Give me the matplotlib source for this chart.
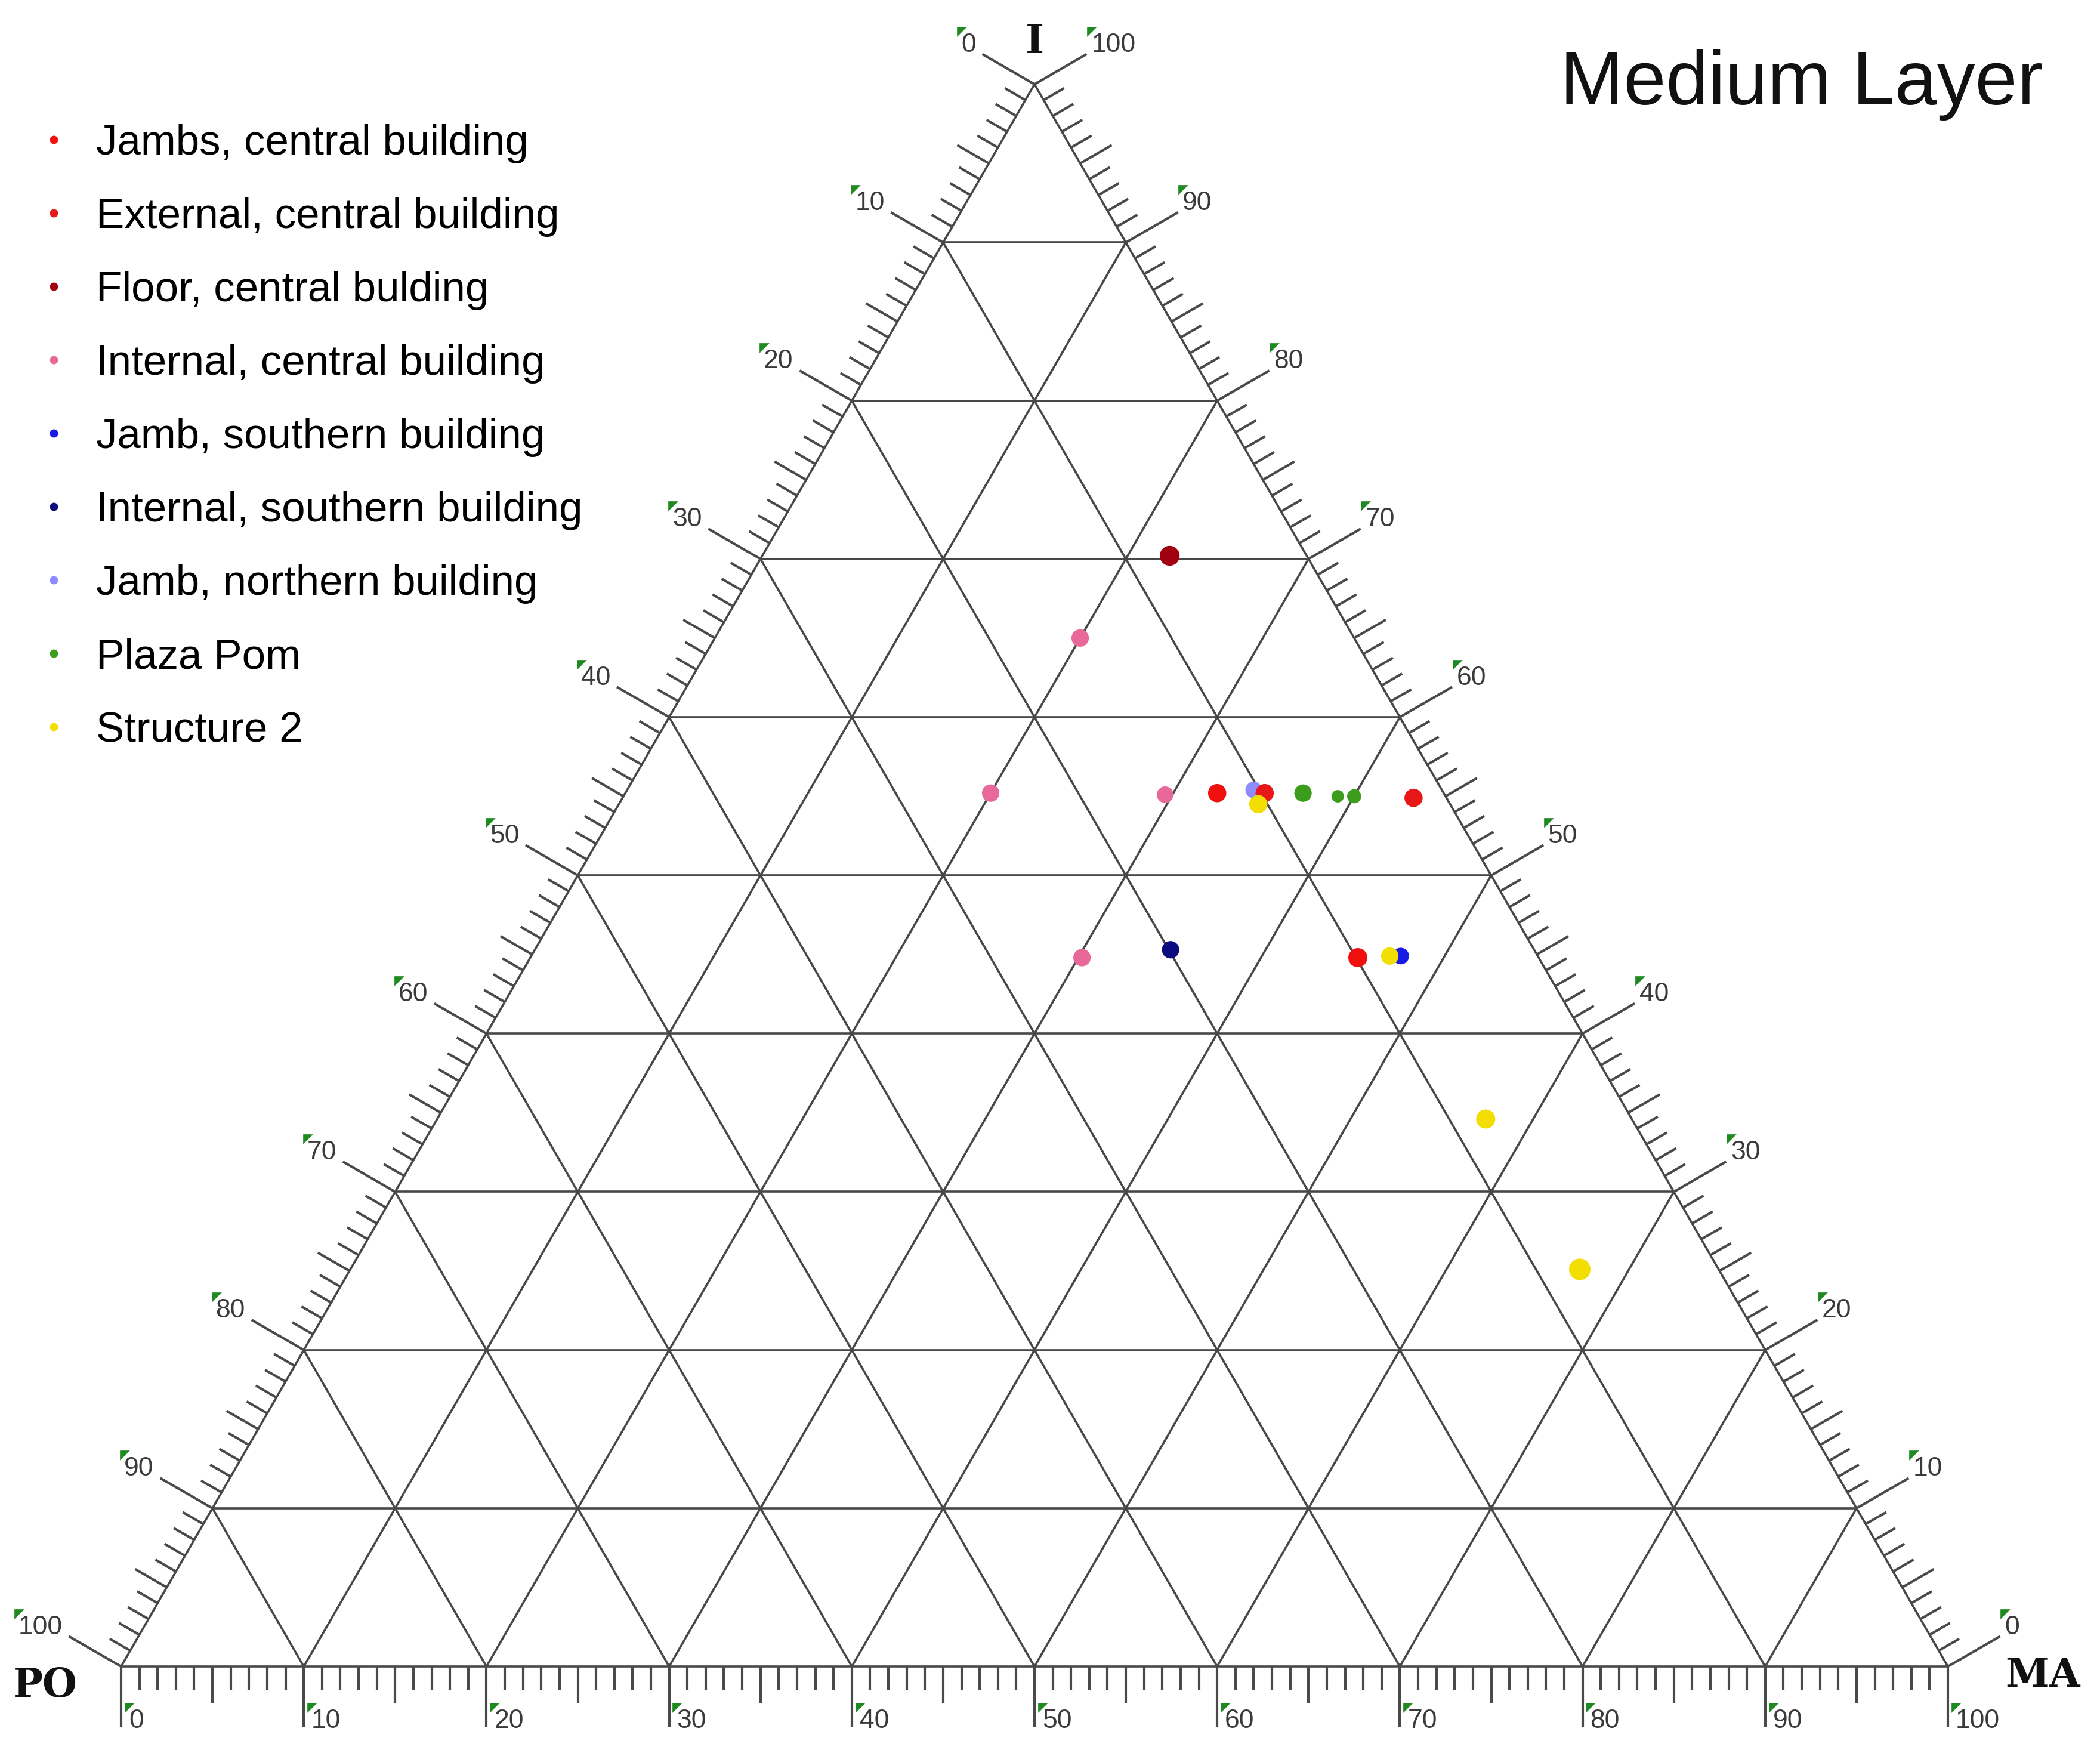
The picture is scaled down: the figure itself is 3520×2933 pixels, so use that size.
import numpy as np
import matplotlib
matplotlib.use('Agg')
import matplotlib.pyplot as plt
from matplotlib.lines import Line2D

# compositions in percent: PO, MA, I
jambs_central_po = [12.4, 9.9]
jambs_central_ma = [32.4, 45.3]
jambs_central_i = [55.2, 44.8]

external_central_po = [9.8, 1.8]
external_central_ma = [35.0, 43.3]
external_central_i = [55.2, 54.9]

floor_central_po = [7.5]
floor_central_ma = [22.3]
floor_central_i = [70.2]

internal_central_po = [15.0, 24.8, 15.3, 25.0]
internal_central_ma = [20.0, 20.0, 29.6, 30.2]
internal_central_i = [65.0, 55.2, 55.1, 44.8]

jamb_southern_po = [7.5]
jamb_southern_ma = [47.6]
jamb_southern_i = [44.9]

internal_southern_po = [19.9]
internal_southern_ma = [34.8]
internal_southern_i = [45.3]

jamb_northern_po = [10.3]
jamb_northern_ma = [34.3]
jamb_northern_i = [55.4]

plaza_pom_po = [7.7, 5.9, 5.0]
plaza_pom_ma = [37.1, 39.1, 40.0]
plaza_pom_i = [55.2, 55.0, 55.0]

structure2_po = [10.5, 8.1, 8.0, 7.6]
structure2_ma = [35.0, 47.0, 57.4, 67.3]
structure2_i = [54.5, 44.9, 34.6, 25.1]

legend_labels = ['Jambs, central building', 'External, central building',
                 'Floor, central bulding', 'Internal, central building',
                 'Jamb, southern building', 'Internal, southern building',
                 'Jamb, northern building', 'Plaza Pom', 'Structure 2']
tick_values = list(range(0, 101, 10))

SQ = np.sqrt(3) / 2


def tern(po, ma, i):
    po, ma, i = (np.asarray(v, float) for v in (po, ma, i))
    tot = po + ma + i
    ma, i = 100 * ma / tot, 100 * i / tot
    return ma + i / 2, i * SQ


W, H = 3520, 2933
fig = plt.figure(figsize=(W / 100, H / 100), dpi=100)
ax = fig.add_axes([0, 0, 1, 1])
ppu = 30.62          # pixels per percent
x0, y0 = 203, 2793   # PO corner, pixels from top-left
ax.set_xlim(-x0 / ppu, (W - x0) / ppu)
ax.set_ylim(-(H - y0) / ppu, y0 / ppu)
ax.axis('off')

line_kw = dict(color='#474747', lw=2.6, solid_capstyle='butt', zorder=1)
tick_kw = dict(color='#4a4a4a', lw=3.0, solid_capstyle='butt', zorder=1)

# grid
for k in range(10, 100, 10):
    for a, b in [((100 - k, 0, k), (0, 100 - k, k)),
                 ((100 - k, k, 0), (0, k, 100 - k)),
                 ((k, 100 - k, 0), (k, 0, 100 - k))]:
        xs, ys = tern([a[0], b[0]], [a[1], b[1]], [a[2], b[2]])
        ax.plot(xs, ys, **line_kw)

# outline
xs, ys = tern([100, 0, 0, 100], [0, 100, 0, 0], [0, 0, 100, 0])
ax.plot(xs, ys, **line_kw)

# ticks
edges = {
    'bottom': (lambda v: tern(100 - v, v, 0), (0.0, -1.0)),
    'left': (lambda v: tern(v, 0, 100 - v), (-SQ, 0.5)),
    'right': (lambda v: tern(0, 100 - v, v), (SQ, 0.5)),
}


def tick_len(v):
    if v % 10 == 0:
        return 3.3
    if v % 5 == 0:
        return 2.0
    return 1.3


labels = []
lab_kw = dict(fontsize=32, family='Liberation Sans', color='#3a3a3a')
for name, (base, (dx, dy)) in edges.items():
    for v in range(0, 101):
        bx, by = base(v)
        L = tick_len(v)
        ax.plot([bx, bx + dx * L], [by, by + dy * L], **tick_kw)
    for v in tick_values:
        bx, by = base(v)
        ex, ey = bx + dx * 3.3, by + dy * 3.3
        if name == 'bottom':
            t = ax.text(ex + 0.42, ey + 0.3, str(v), ha='left', va='center', **lab_kw)
        elif name == 'left':
            t = ax.text(ex - 0.35, ey + 0.5, str(v), ha='right', va='center', **lab_kw)
        else:
            t = ax.text(ex + 0.25, ey + 0.5, str(v), ha='left', va='center', **lab_kw)
        labels.append(t)

# corner names
corner_kw = dict(fontsize=48, family='DejaVu Serif', fontweight='bold',
                 color='#111111', ha='center', va='center')
ax.text(50, 100 * SQ + 2.3, 'I', **corner_kw)
ax.text(-4.15, -1.05, 'PO', **corner_kw)
ax.text(105.2, -0.52, 'MA', **corner_kw)

# data
series = [
    (jamb_southern_po, jamb_southern_ma, jamb_southern_i, '#1a1ae6', [20]),
    (jamb_northern_po, jamb_northern_ma, jamb_northern_i, '#8c8cff', [20]),
    (internal_southern_po, internal_southern_ma, internal_southern_i, '#0c0c80', [21]),
    (internal_central_po, internal_central_ma, internal_central_i, '#e8689a', [21, 21, 20, 21]),
    (floor_central_po, floor_central_ma, floor_central_i, '#a00010', [24]),
    (jambs_central_po, jambs_central_ma, jambs_central_i, '#f01010', [22, 23]),
    (external_central_po, external_central_ma, external_central_i, '#e81818', [22, 22]),
    (plaza_pom_po, plaza_pom_ma, plaza_pom_i, '#3c9c1c', [21, 15, 17]),
    (structure2_po, structure2_ma, structure2_i, '#f2de00', [22, 21, 23, 26]),
]
for z, (po, ma, i, c, sz) in enumerate(series):
    px, py = tern(po, ma, i)
    ax.scatter(px, py, s=np.array(sz) ** 2, color=c, edgecolors='none', zorder=5 + z)

# legend
leg_colors = ['#f01010', '#e81818', '#a00010', '#e8689a', '#1a1ae6',
              '#0c0c80', '#8c8cff', '#3c9c1c', '#f2de00']
handles = [Line2D([], [], ls='', marker='o', markersize=10, markeredgewidth=0, color=c)
           for c in leg_colors]
ax.legend(handles, legend_labels, loc='upper left',
          bbox_to_anchor=(62 / W, 1 - 208 / H), bbox_transform=fig.transFigure,
          frameon=False, prop={'family': 'Liberation Sans', 'size': 51},
          handlelength=0.8, handletextpad=0.6, labelspacing=0.805,
          borderpad=0, borderaxespad=0)

fig.text(3424 / W, 1 - 175 / H, 'Medium Layer', ha='right', va='baseline',
         fontsize=92, family='Liberation Sans', color='#111111')

# little green flags at the top-left of each tick label
fig.canvas.draw()
inv = ax.transData.inverted()
flag = [(-1, 1), (1, 1), (-1, -1)]
for t in labels:
    bb = t.get_window_extent()
    fx, fy = inv.transform((bb.x0 + 1, bb.y1 + 2))
    ax.plot(fx, fy, ls='', marker=flag, markersize=12, color='#1f8a1f',
            markeredgewidth=0, zorder=6)

fig.savefig('out.png', dpi=100, facecolor='white')
